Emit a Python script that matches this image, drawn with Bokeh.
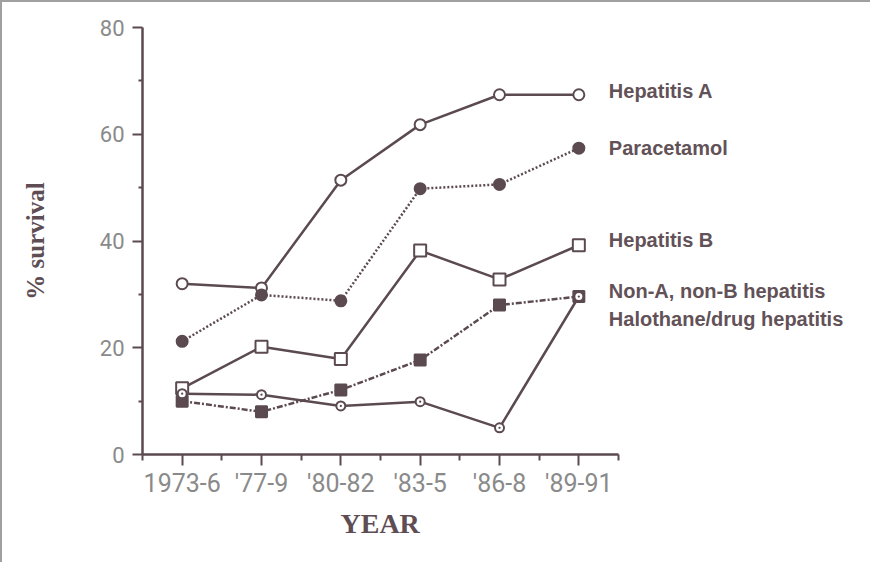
from bokeh.plotting import figure
from bokeh.models import Range1d, FixedTicker, Label, Title
from bokeh.embed import file_html
from bokeh.resources import INLINE

# ---- data ----
periods = ["1973-6", "'77-9", "'80-82", "'83-5", "'86-8", "'89-91"]
hep_a = [32.0, 31.2, 51.4, 61.8, 67.4, 67.4]
paracetamol = [21.2, 29.9, 28.8, 49.8, 50.6, 57.4]
hep_b = [12.4, 20.2, 17.9, 38.2, 32.8, 39.2]
non_a_non_b = [10.0, 8.0, 12.1, 17.7, 28.0, 29.6]
halothane = [11.4, 11.2, 9.1, 9.9, 5.0, 29.6]
series_names = ["Hepatitis A", "Paracetamol", "Hepatitis B",
                "Non-A, non-B hepatitis", "Halothane/drug hepatitis"]
y_ticks = [0, 20, 40, 60, 80]
y_minor = [10, 30, 50, 70]

INK = "#5b4a4f"
GREY = "#8a8a8a"

xs = list(range(len(periods)))

# layout: axis spans 476 px for the 6 periods; frame continues to the right edge
W, H = 870, 562
left, top, bottom = 140, 25, 110
axis_px = 476
unit = axis_px / len(periods)
x_end = -0.5 + (W - left) / unit

p = figure(width=W, height=H, output_backend="svg", toolbar_location=None,
           x_range=Range1d(-0.5, x_end), y_range=Range1d(0, 80),
           min_border_left=left, min_border_top=top, min_border_right=0,
           min_border_bottom=bottom)
p.styles = {"border-top": "2px solid #a0a0a0", "border-left": "2px solid #a0a0a0"}
p.outline_line_color = None
p.xgrid.visible = False
p.ygrid.visible = False
p.background_fill_color = "white"
p.border_fill_color = "white"

styles = [
    (hep_a, "solid", "circle", "white", 11),
    (paracetamol, "2 2", "circle", INK, 11),
    (hep_b, "solid", "square", "white", 12),
    (non_a_non_b, "6 2 2 2", "square", INK, 11),
    (halothane, "solid", "circle_dot", "white", 9),
]
label_dy = [4, 0, 5, 6, -22]

for vals, dash, marker, fill, size in styles:
    p.line(xs, vals, line_color=INK, line_width=2.5, line_dash=dash)
for vals, dash, marker, fill, size in styles:
    p.scatter(xs, vals, marker=marker, size=size, line_color=INK, line_width=2,
              fill_color=fill)

for (vals, *_), name, dy in zip(styles, series_names, label_dy):
    p.add_layout(Label(x=xs[-1], y=vals[-1], x_offset=30, y_offset=dy,
                       text=name, text_baseline="middle",
                       text_font="Liberation Sans", text_font_style="bold",
                       text_font_size="20px", text_color="#625258"))

# x axis
xa = p.xaxis[0]
xa.bounds = (-0.5, len(periods) - 0.5)
xa.ticker = FixedTicker(ticks=xs, minor_ticks=[i - 0.5 for i in range(len(periods) + 1)])
xa.major_label_overrides = {i: lab for i, lab in enumerate(periods)}
# y axis
ya = p.yaxis[0]
ya.ticker = FixedTicker(ticks=y_ticks, minor_ticks=y_minor)
ya.axis_label = "% survival"

for ax in (xa, ya):
    ax.axis_line_color = INK
    ax.axis_line_width = 2.5
    ax.major_tick_line_color = INK
    ax.major_tick_line_width = 2
    ax.minor_tick_line_color = INK
    ax.minor_tick_line_width = 2
    ax.major_tick_in = 0
    ax.minor_tick_in = 0
    ax.major_label_text_font = "Roboto"
    ax.major_label_text_color = GREY
    ax.axis_label_text_font = "Liberation Serif"
    ax.axis_label_text_font_style = "bold"
    ax.axis_label_text_color = "#5e4e54"

xa.major_tick_out = 11
xa.minor_tick_out = 6
xa.major_label_text_font_size = "25px"
xa.major_label_standoff = 3

ya.major_tick_out = 10
ya.minor_tick_out = 4
ya.major_label_text_font_size = "22px"
ya.major_label_standoff = 8
ya.axis_label_standoff = 48
ya.axis_label_text_font_size = "25px"

# x-axis title, centred under the bounded axis (frame extends right for labels)
year_w = 80  # approx. rendered width of "YEAR" at 28px bold serif
year_title = Title(text="YEAR", align="left", offset=axis_px / 2 - year_w / 2,
                   text_font="Liberation Serif", text_font_style="bold",
                   text_font_size="28px", text_line_height=1.4,
                   text_color="#5e4e54")
p.add_layout(year_title, "below")

open("out.html", "w").write(file_html(p, INLINE))
